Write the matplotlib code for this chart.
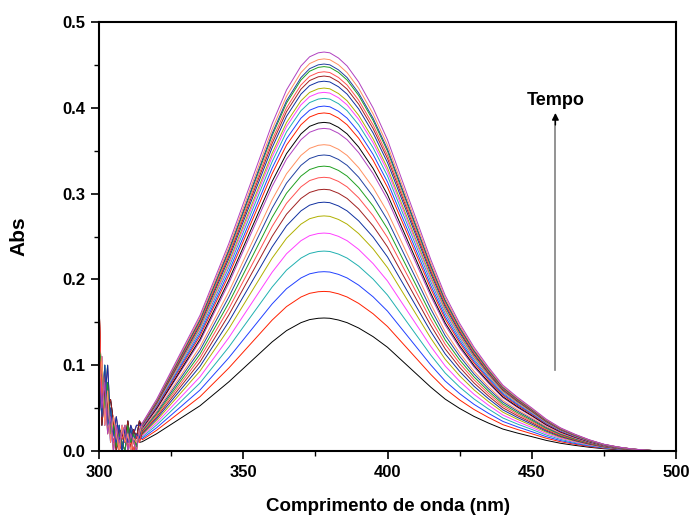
import matplotlib
matplotlib.use("Agg")
import matplotlib.pyplot as plt
import numpy as np

plt.rcParams['font.family'] = ['Liberation Sans', 'DejaVu Sans']
plt.rcParams['font.weight'] = 'bold'

# Peak absorbance of each spectrum (increasing with time)
peak_heights = [0.155, 0.186, 0.209, 0.233, 0.254, 0.274, 0.290, 0.305, 0.319,
                0.332, 0.345, 0.357, 0.376, 0.383, 0.394, 0.402, 0.411, 0.418,
                0.423, 0.431, 0.437, 0.442, 0.448, 0.451, 0.457, 0.465]

# Normalized band shape
prof_nm = [315, 320, 325, 330, 335, 340, 345, 350, 355, 360, 365, 370, 373, 376, 378,
           380, 383, 386, 390, 395, 400, 405, 410, 415, 420, 425, 430, 435, 440, 445,
           450, 455, 460, 465, 470, 475, 480, 485, 490, 495, 500]
prof = [0.07, 0.13, 0.20, 0.27, 0.34, 0.43, 0.52, 0.62, 0.72, 0.82, 0.905, 0.965,
        0.988, 0.998, 1.0, 0.998, 0.985, 0.965, 0.925, 0.86, 0.78, 0.68, 0.58, 0.48,
        0.39, 0.32, 0.26, 0.21, 0.165, 0.135, 0.108, 0.08, 0.058, 0.042, 0.028,
        0.017, 0.01, 0.005, 0.002, 0.0, 0.0]

# Noisy low-wavelength region (300-314 nm)
noise_nm = list(range(300, 315))
noise_sets = [
    [0.175, 0.06, 0.09, 0.04, 0.03, 0.01, 0.02, 0.0, 0.015, 0.02, 0.005, 0.01, 0.0, 0.02, 0.01],
    [0.12, 0.10, 0.05, 0.08, 0.02, 0.03, 0.005, 0.02, 0.01, 0.0, 0.03, 0.01, 0.02, 0.005, 0.02],
    [0.09, 0.04, 0.10, 0.03, 0.05, 0.02, 0.01, 0.03, 0.0, 0.02, 0.01, 0.025, 0.01, 0.02, 0.015],
    [0.06, 0.11, 0.03, 0.07, 0.01, 0.04, 0.02, 0.0, 0.03, 0.01, 0.02, 0.0, 0.015, 0.01, 0.02],
    [0.10, 0.05, 0.08, 0.02, 0.04, 0.0, 0.03, 0.01, 0.02, 0.03, 0.0, 0.02, 0.01, 0.0, 0.025],
    [0.08, 0.09, 0.06, 0.10, 0.03, 0.02, 0.04, 0.015, 0.0, 0.025, 0.01, 0.03, 0.02, 0.03, 0.03],
    [0.14, 0.03, 0.07, 0.05, 0.06, 0.035, 0.0, 0.025, 0.02, 0.01, 0.035, 0.005, 0.025, 0.015, 0.035],
]

colors = ['#000000', '#FF2000', '#2040FF', '#20B0B0', '#FF40FF', '#B0B000',
          '#1030A0', '#A02020', '#FF5050', '#20A020', '#2040A0', '#FF9060', '#B040C0']

fig = plt.figure(figsize=(6.92, 5.18), dpi=100)
ax = fig.add_axes([99/692, 1-451/518, (676-99)/692, (451-22)/518])

for i, h in enumerate(peak_heights):
    nz = noise_sets[i % len(noise_sets)]
    x = noise_nm + prof_nm
    y = nz + [h * p for p in prof]
    ax.plot(x, y, color=colors[i % len(colors)], lw=0.7)

ax.set_xlim(300, 500)
ax.set_ylim(0, 0.5)
ax.set_xticks([300, 350, 400, 450, 500])
ax.set_xticks([325, 375, 425, 475], minor=True)
ax.set_yticks([0.0, 0.1, 0.2, 0.3, 0.4, 0.5])
ax.set_yticks([0.05, 0.15, 0.25, 0.35, 0.45], minor=True)
ax.set_yticklabels(['0.0', '0.1', '0.2', '0.3', '0.4', '0.5'])
ax.tick_params(which='major', direction='out', length=6, width=1.2, labelsize=12, pad=4)
ax.tick_params(which='minor', direction='out', length=3.5, width=1.0)
for lab in ax.get_xticklabels() + ax.get_yticklabels():
    lab.set_fontweight('bold')
for s in ax.spines.values():
    s.set_linewidth(1.5)

ax.set_xlabel('Comprimento de onda (nm)', fontsize=13.5, fontweight='bold', labelpad=13)
ax.set_ylabel('Abs', fontsize=15, fontweight='bold', labelpad=24)

# Time arrow
ax.plot([458.2, 458.2], [0.094, 0.385], color='gray', lw=1.2)
ax.annotate('', xy=(458.2, 0.394), xytext=(458.2, 0.380),
            arrowprops=dict(arrowstyle='-|>', color='black', lw=1, mutation_scale=10,
                            shrinkA=0, shrinkB=0))
ax.text(458.2, 0.409, 'Tempo', ha='center', va='center', fontsize=13, fontweight='bold')

fig.savefig('out.png', dpi=100)
